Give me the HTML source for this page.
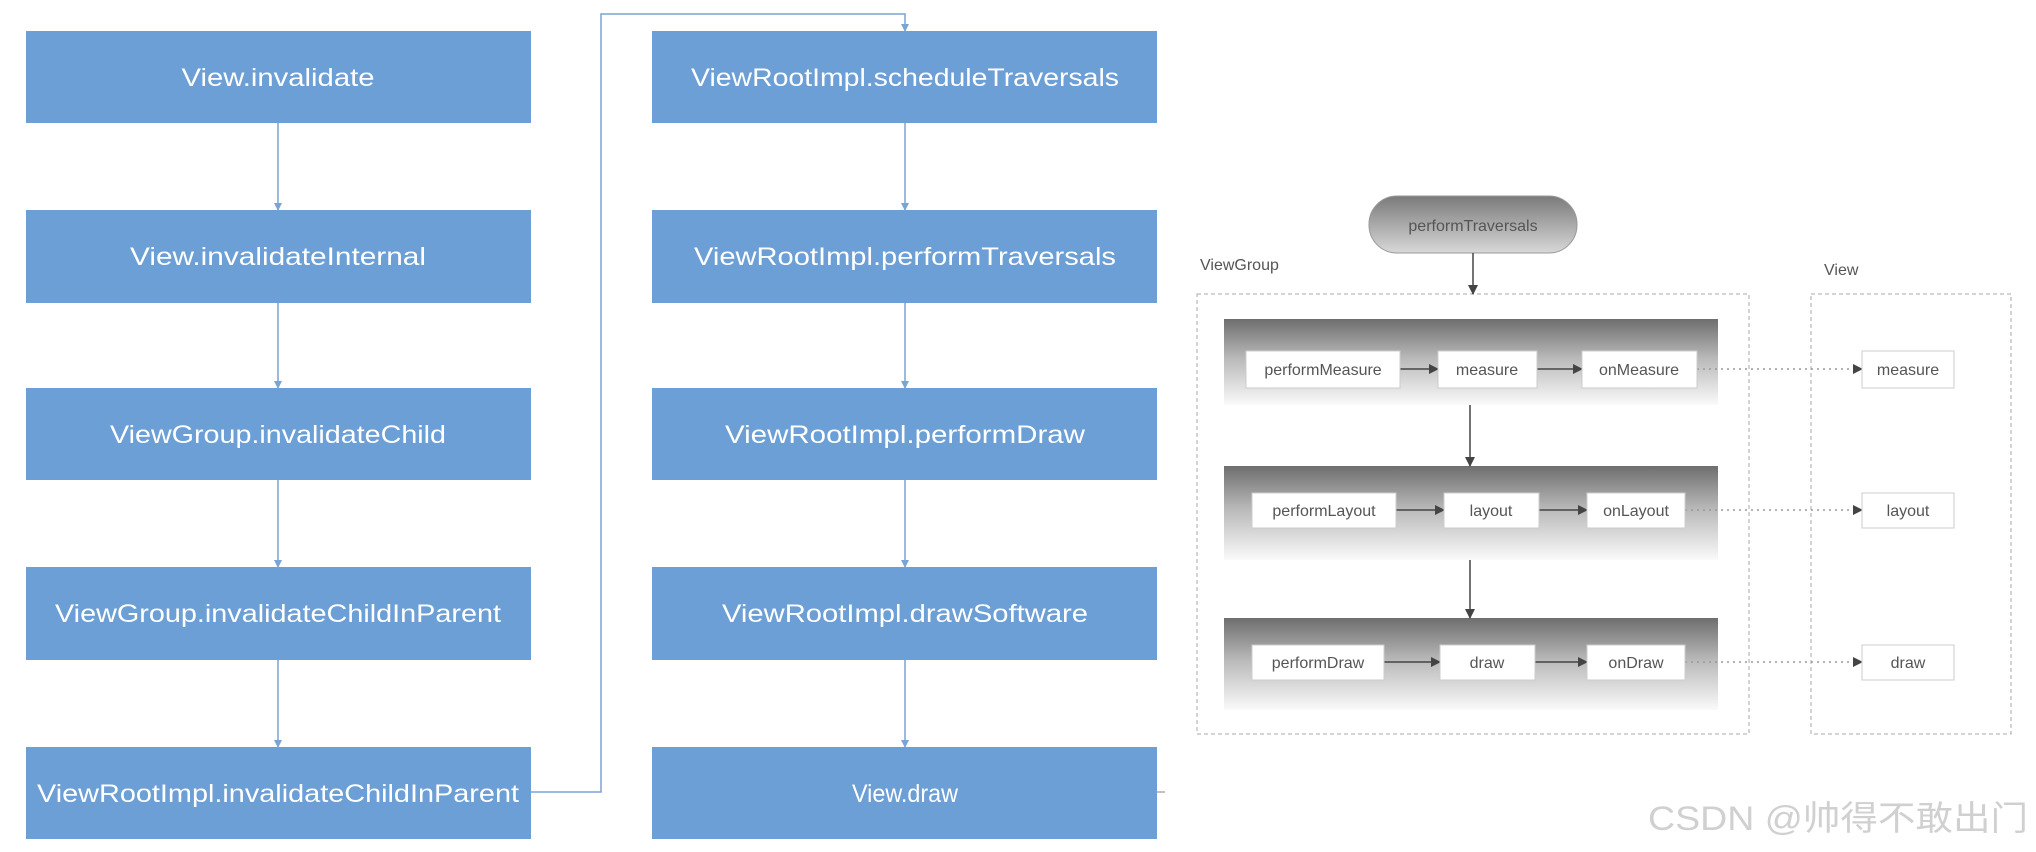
<!DOCTYPE html>
<html><head><meta charset="utf-8"><style>html,body{margin:0;padding:0;background:#fff;}svg{display:block;}</style></head>
<body>
<svg width="2036" height="852" viewBox="0 0 2036 852" xmlns="http://www.w3.org/2000/svg">
<defs>
<linearGradient id="band" x1="0" y1="0" x2="0" y2="1">
<stop offset="0" stop-color="#6e6e6e"/><stop offset="0.45" stop-color="#b8b8b8"/><stop offset="1" stop-color="#fafafa"/>
</linearGradient>
<linearGradient id="pill" x1="0" y1="0" x2="0" y2="1">
<stop offset="0" stop-color="#7a7a7a"/><stop offset="1" stop-color="#d8d8d8"/>
</linearGradient>
<marker id="ab" markerWidth="8" markerHeight="8" refX="7" refY="4" orient="auto" markerUnits="userSpaceOnUse"><path d="M0,0 L8,4 L0,8 z" fill="#7aa3d6"/></marker>
<marker id="ag" markerWidth="10" markerHeight="10" refX="9" refY="5" orient="auto" markerUnits="userSpaceOnUse"><path d="M0,0 L10,5 L0,10 z" fill="#444"/></marker>
</defs>
<g fill="#6c9fd6">
<rect x="26" y="31" width="505" height="92"/><rect x="26" y="210" width="505" height="93"/><rect x="26" y="388" width="505" height="92"/><rect x="26" y="567" width="505" height="93"/><rect x="26" y="747" width="505" height="92"/>
<rect x="652" y="31" width="505" height="92"/><rect x="652" y="210" width="505" height="93"/><rect x="652" y="388" width="505" height="92"/><rect x="652" y="567" width="505" height="93"/><rect x="652" y="747" width="505" height="92"/>
</g>
<g stroke="#7aa3d6" stroke-width="1.5" fill="none" marker-end="url(#ab)">
<line x1="278" y1="123" x2="278" y2="210"/><line x1="278" y1="303" x2="278" y2="388"/><line x1="278" y1="480" x2="278" y2="567"/><line x1="278" y1="660" x2="278" y2="747"/>
<line x1="905" y1="123" x2="905" y2="210"/><line x1="905" y1="303" x2="905" y2="388"/><line x1="905" y1="480" x2="905" y2="567"/><line x1="905" y1="660" x2="905" y2="747"/>
<polyline points="531,792 601,792 601,14 905,14 905,31"/>
</g>
<line x1="1157" y1="792" x2="1165" y2="792" stroke="#aaa" stroke-width="1.5"/>
<g font-family="Liberation Sans, sans-serif" font-size="25" fill="#fff" text-anchor="middle">
<text x="278" y="86" textLength="193" lengthAdjust="spacingAndGlyphs">View.invalidate</text>
<text x="278" y="265" textLength="296" lengthAdjust="spacingAndGlyphs">View.invalidateInternal</text>
<text x="278" y="443" textLength="336" lengthAdjust="spacingAndGlyphs">ViewGroup.invalidateChild</text>
<text x="278" y="622" textLength="446" lengthAdjust="spacingAndGlyphs">ViewGroup.invalidateChildInParent</text>
<text x="278" y="802" textLength="482" lengthAdjust="spacingAndGlyphs">ViewRootImpl.invalidateChildInParent</text>
<text x="905" y="86" textLength="428" lengthAdjust="spacingAndGlyphs">ViewRootImpl.scheduleTraversals</text>
<text x="905" y="265" textLength="422" lengthAdjust="spacingAndGlyphs">ViewRootImpl.performTraversals</text>
<text x="905" y="443" textLength="360" lengthAdjust="spacingAndGlyphs">ViewRootImpl.performDraw</text>
<text x="905" y="622" textLength="366" lengthAdjust="spacingAndGlyphs">ViewRootImpl.drawSoftware</text>
<text x="905" y="802" textLength="106" lengthAdjust="spacingAndGlyphs">View.draw</text>
</g>
<rect x="1369" y="196" width="208" height="57" rx="28" fill="url(#pill)" stroke="#999"/>
<text x="1473" y="231" font-family="Liberation Sans, sans-serif" font-size="16" fill="#555" text-anchor="middle">performTraversals</text>
<text x="1200" y="270" font-family="Liberation Sans, sans-serif" font-size="16" fill="#555">ViewGroup</text>
<text x="1824" y="275" font-family="Liberation Sans, sans-serif" font-size="16" fill="#555">View</text>
<rect x="1197" y="294" width="552" height="440" fill="none" stroke="#aaa" stroke-dasharray="4,3"/>
<rect x="1811" y="294" width="200" height="440" fill="none" stroke="#aaa" stroke-dasharray="4,3"/>
<rect x="1224" y="319" width="494" height="86" fill="url(#band)"/>
<rect x="1224" y="466" width="494" height="94" fill="url(#band)"/>
<rect x="1224" y="618" width="494" height="92" fill="url(#band)"/>
<g stroke="#444" stroke-width="1.5" marker-end="url(#ag)">
<line x1="1473" y1="253" x2="1473" y2="294"/>
<line x1="1470" y1="405" x2="1470" y2="466"/>
<line x1="1470" y1="560" x2="1470" y2="618"/>
<line x1="1400" y1="369" x2="1438" y2="369"/><line x1="1537" y1="369" x2="1582" y2="369"/>
<line x1="1396" y1="510" x2="1444" y2="510"/><line x1="1539" y1="510" x2="1587" y2="510"/>
<line x1="1384" y1="662" x2="1440" y2="662"/><line x1="1535" y1="662" x2="1587" y2="662"/>
</g>
<g stroke="#999" stroke-width="1.5" stroke-dasharray="2,4" marker-end="url(#ag)">
<line x1="1697" y1="369" x2="1862" y2="369"/><line x1="1685" y1="510" x2="1862" y2="510"/><line x1="1685" y1="662" x2="1862" y2="662"/>
</g>
<g fill="#fff" stroke="#ccc">
<rect x="1246" y="351" width="154" height="37"/><rect x="1438" y="351" width="99" height="37"/><rect x="1582" y="351" width="115" height="37"/>
<rect x="1252" y="493" width="144" height="35"/><rect x="1444" y="493" width="95" height="35"/><rect x="1587" y="493" width="98" height="35"/>
<rect x="1252" y="645" width="132" height="35"/><rect x="1440" y="645" width="95" height="35"/><rect x="1587" y="645" width="98" height="35"/>
<rect x="1862" y="351" width="92" height="37"/><rect x="1862" y="493" width="92" height="35"/><rect x="1862" y="645" width="92" height="35"/>
</g>
<g font-family="Liberation Sans, sans-serif" font-size="16" fill="#555" text-anchor="middle">
<text x="1323" y="375">performMeasure</text><text x="1487" y="375">measure</text><text x="1639" y="375">onMeasure</text>
<text x="1324" y="516">performLayout</text><text x="1491" y="516">layout</text><text x="1636" y="516">onLayout</text>
<text x="1318" y="668">performDraw</text><text x="1487" y="668">draw</text><text x="1636" y="668">onDraw</text>
<text x="1908" y="375">measure</text><text x="1908" y="516">layout</text><text x="1908" y="668">draw</text>
</g>
<text x="1648" y="830" font-family="Liberation Sans, 'Noto Sans CJK SC', sans-serif" font-size="34" fill="#d0d0d0" textLength="380" lengthAdjust="spacingAndGlyphs">CSDN @帅得不敢出门</text>
</svg>
</body></html>
